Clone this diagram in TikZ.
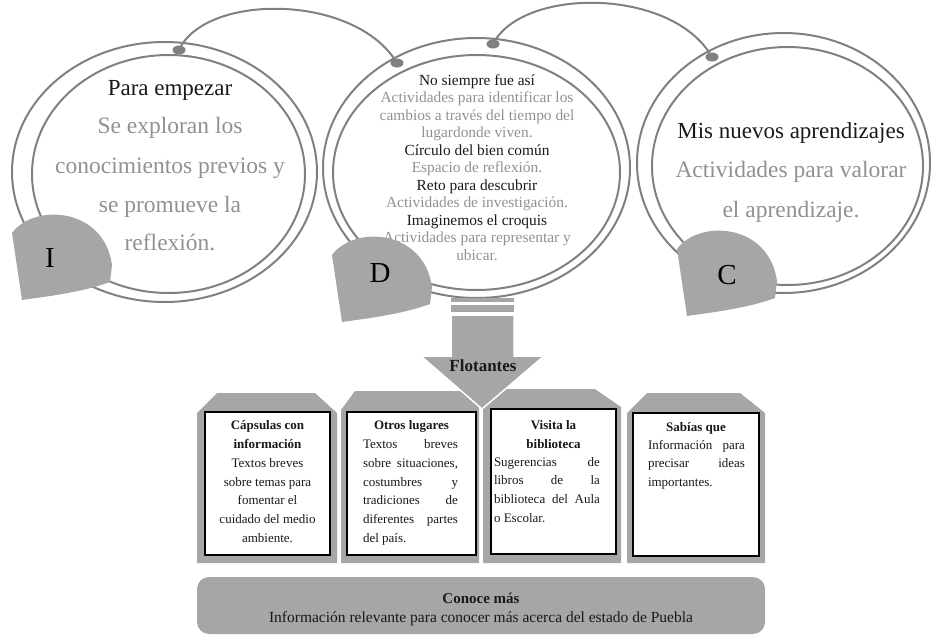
\documentclass[tikz,border=0pt]{standalone}
\usepackage{fontspec}
\setmainfont{Liberation Serif}
\usetikzlibrary{shapes.geometric}
\definecolor{ringgray}{RGB}{128,128,128}
\definecolor{fillgray}{RGB}{166,166,166}
\definecolor{txtgray}{RGB}{145,145,145}
\definecolor{txtdark}{RGB}{25,25,25}
\tikzset{
  ring/.style={draw=ringgray, line width=2pt},
  dotnode/.style={ellipse, fill=ringgray, minimum width=13pt, minimum height=9pt, inner sep=0},
  tagfill/.style={fill=fillgray},
  bigtitle/.style={font=\fontsize{23}{27}\selectfont, text=txtdark, anchor=base, inner sep=0},
  biggray/.style={font=\fontsize{23.5}{27}\selectfont, text=txtgray, anchor=base, inner sep=0},
  midtitle/.style={font=\fontsize{15.4}{18}\selectfont, text=txtdark, anchor=base, inner sep=0},
  midgray/.style={font=\fontsize{15.4}{18}\selectfont, text=txtgray, anchor=base, inner sep=0},
  letter/.style={font=\fontsize{29}{33}\selectfont, text=black, inner sep=0},
  boxtitle/.style={font=\bfseries\fontsize{13}{15}\selectfont, text=txtdark, anchor=base, inner sep=0},
  boxtext/.style={font=\fontsize{13}{15}\selectfont, text=txtdark, anchor=base, inner sep=0},
  whitebox/.style={draw=black, fill=white, line width=1.2pt},
}
\newcommand{\tagpath}[1]{%
  \fill[tagfill] (#1) ++(-10,-67) .. controls +(22,-30) and +(-8,-58) .. ++(100,32)
     -- ++(-2,17) .. controls +(-30,11) and +(20,-3) .. ++(-88,18) -- cycle;}
\begin{document}
\begin{tikzpicture}[x=1pt,y=-1pt]
\useasboundingbox (0,0) rectangle (932,635);

% rings
\draw[ring] (164.5,172) ellipse [x radius=152.5, y radius=130];
\draw[ring] (168.5,174) ellipse [x radius=136.5, y radius=119];
\draw[ring] (476.5,168) ellipse [x radius=153.5, y radius=130];
\draw[ring] (476.5,172.5) ellipse [x radius=143.5, y radius=117.5];
\draw[ring] (783.5,163) ellipse [x radius=146.5, y radius=130];
\draw[ring] (787.5,166) ellipse [x radius=135.5, y radius=119];

% dots and arcs
\node[dotnode] (d1) at (179,50) {};
\node[dotnode] (d2) at (397,63) {};
\node[dotnode] (d3) at (493,44) {};
\node[dotnode] (d4) at (712,57) {};
\draw[ring] (d1.center) .. controls (205,-7) and (355,-7) .. (d2.center);
\draw[ring] (d3.center) .. controls (522,-13) and (672,-13) .. (d4.center);

% circle I text
\node[bigtitle] (it) at (170,95) {Para empezar};
\foreach \y/\t [count=\k] in {133/Se exploran los, 173/conocimientos previos y, 212/se promueve la, 250/reflexión.}
  \node[biggray] (ig\k) at (170,\y) {\t};

% circle D text
\node[midtitle] (dt1) at (477,85) {No siempre fue así};
\node[midgray] (dg1) at (477,102.5) {Actividades para identificar los};
\node[midgray] (dg2) at (477,120) {cambios a través del tiempo del};
\node[midgray] (dg3) at (477,137.5) {lugardonde viven.};
\node[midtitle] (dt2) at (477,155) {Círculo del bien común};
\node[midgray] (dg4) at (477,172.5) {Espacio de reflexión.};
\node[midtitle] (dt3) at (477,190) {Reto para descubrir};
\node[midgray] (dg5) at (477,207.5) {Actividades de investigación.};
\node[midtitle] (dt4) at (477,225) {Imaginemos el croquis};
\node[midgray] (dg6) at (477,242.5) {Actividades para representar y};
\node[midgray] (dg7) at (477,260) {ubicar.};

% circle C text
\node[bigtitle] (ct) at (791,138) {Mis nuevos aprendizajes};
\node[biggray] (cg1) at (791,177) {Actividades para valorar};
\node[biggray] (cg2) at (791,217) {el aprendizaje.};

% tags
\coordinate (tagI) at (22,300);
\coordinate (tagD) at (342,322);
\coordinate (tagC) at (687,316);
\tagpath{tagI}
\tagpath{tagD}
\tagpath{tagC}
\node[letter] (lI) at (50,258) {I};
\node[letter] (lD) at (380,273) {D};
\node[letter] (lC) at (727,275) {C};

% boxes (gray tabs)
\fill[fillgray] (197,563) -- (197,413) -- (217,393) -- (315,393) -- (337,413) -- (337,563) -- cycle;
\fill[fillgray] (341,563) -- (341,410) -- (355,391) -- (470,391) -- (479,400) -- (479,563) -- cycle;
\fill[fillgray] (483,563) -- (483,400) -- (492,389) -- (595,389) -- (621,407) -- (621,563) -- cycle;
\fill[fillgray] (627,563) -- (627,413) -- (647,393) -- (740,393) -- (765,413) -- (765,563) -- cycle;

% arrow
\fill[fillgray] (451,298) rectangle (514,302);
\fill[fillgray] (451,305) rectangle (514,312);
\draw[white, fill=fillgray, line width=1.5pt, line join=miter]
  (451,315) -- (514,315) -- (514,356) -- (544,356) -- (482,409) -- (421,356) -- (451,356) -- cycle;
\node[font=\bfseries\fontsize{17}{20}\selectfont, text=txtdark, anchor=base, inner sep=0] (flo) at (483,371) {Flotantes};

% white boxes
\draw[whitebox] (205,412) rectangle (330,555);
\draw[whitebox] (347,412) rectangle (476,555);
\draw[whitebox] (491,409) rectangle (616,554);
\draw[whitebox] (633,413) rectangle (759,556);

% box 1 text
\node[boxtitle] (b1t1) at (267.5,429) {Cápsulas con};
\node[boxtitle] (b1t2) at (267.5,448) {información};
\foreach \y/\t [count=\k] in {467/Textos breves, 486/sobre temas para, 504/fomentar el, 523/cuidado del medio, 542/ambiente.}
  \node[boxtext] (b1l\k) at (267.5,\y) {\t};

% box 2 text
\node[boxtitle] (b2t) at (411.5,429) {Otros lugares};
\foreach \y/\t [count=\k] in {448/Textos breves, 467/sobre situaciones{,}, 486/costumbres y, 504/tradiciones de, 523/diferentes partes}
  \node[boxtext] (b2l\k) at (410.5,\y) {\makebox[95pt][s]{\t}};
\node[boxtext] (b2l6) at (410.5,542) {\makebox[95pt][l]{del país.}};

% box 3 text
\node[boxtitle] (b3t1) at (553.5,429) {Visita la};
\node[boxtitle] (b3t2) at (553.5,448) {biblioteca};
\foreach \y/\t [count=\k] in {466/Sugerencias de, 484/libros de la, 503/biblioteca del Aula}
  \node[boxtext] (b3l\k) at (547,\y) {\makebox[106pt][s]{\t}};
\node[boxtext] (b3l4) at (547,522) {\makebox[106pt][l]{o Escolar.}};

% box 4 text
\node[boxtitle] (b4t) at (696,431) {Sabías que};
\foreach \y/\t [count=\k] in {449/Información para, 467/precisar ideas}
  \node[boxtext] (b4l\k) at (696.5,\y) {\makebox[97pt][s]{\t}};
\node[boxtext] (b4l3) at (696.5,486) {\makebox[97pt][l]{importantes.}};

% bottom bar
\fill[fillgray, rounded corners=12pt] (197,577) rectangle (765,634);
\node[boxtitle, font=\bfseries\fontsize{15}{17}\selectfont] (cm1) at (481,603) {Conoce más};
\node[boxtext, font=\fontsize{15.5}{17}\selectfont] (cm2) at (481,622) {Información relevante para conocer más acerca del estado de Puebla};
\end{tikzpicture}
\end{document}
